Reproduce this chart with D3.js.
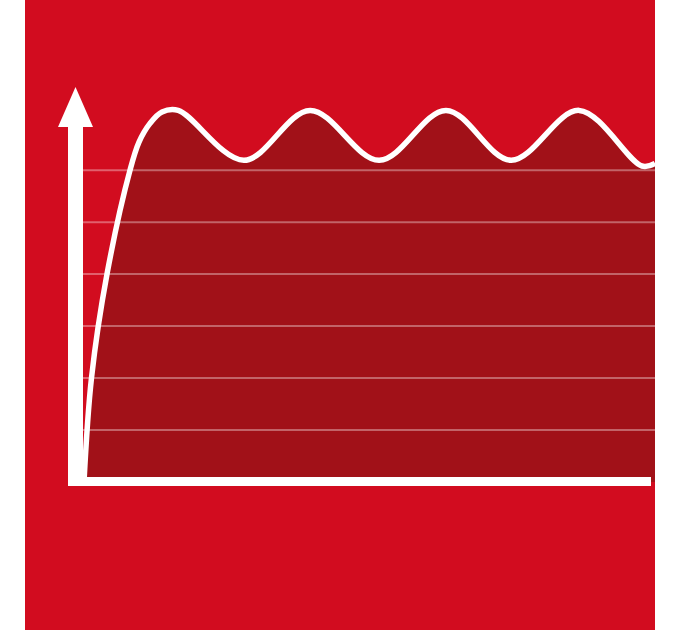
<!DOCTYPE html>
<html>
<head>
<meta charset="utf-8">
<script src="https://cdn.jsdelivr.net/npm/d3@7"></script>
<style>
  html, body { margin: 0; padding: 0; background: #ffffff; }
  svg { display: block; }
</style>
</head>
<body>
<svg id="chart" width="680" height="630"></svg>
<script>
// Time (0–100 across the plot) and response level
const times  = [0, 1.31, 4.03, 8.06, 9.63, 11.56, 13.66, 16.5, 28.0, 39.6, 51.7, 63.4, 74.8, 86.7, 97.7, 100];
const levels = [0, 2.0, 4.0, 6.0, 6.54, 6.90, 7.12, 7.15, 6.19, 7.15, 6.19, 7.15, 6.19, 7.15, 6.08, 6.13];
const gridLevels = [1, 2, 3, 4, 5, 6];

const data = times.map((t, i) => ({ t, v: levels[i] }));

const panel = { left: 25, right: 655, top: 0, bottom: 630 };

const x = d3.scaleLinear().domain([0, 100]).range([84, 655]);
const y = d3.scaleLinear().domain([0, 7.6]).range([482, 87]);

const svg = d3.select("#chart");
const curve = d3.curveCatmullRom.alpha(0.5);

// red panel
svg.append("rect")
  .attr("x", panel.left).attr("y", panel.top)
  .attr("width", panel.right - panel.left).attr("height", panel.bottom - panel.top)
  .attr("fill", "#d20c1f");

// filled area under the curve
const area = d3.area()
  .x(d => x(d.t)).y0(y(0)).y1(d => y(d.v))
  .curve(curve);
svg.append("path").datum(data)
  .attr("d", area)
  .attr("fill", "#a11118");

// gridlines
const shaftLeft = x(0) - 16, shaftRight = x(0) - 1;
svg.append("g").selectAll("line").data(gridLevels).join("line")
  .attr("x1", shaftRight).attr("x2", x(100))
  .attr("y1", d => y(d)).attr("y2", d => y(d))
  .attr("stroke", "#ffffff").attr("stroke-opacity", 0.35).attr("stroke-width", 2);

// curve
const line = d3.line().x(d => x(d.t)).y(d => y(d.v)).curve(curve);
svg.append("path").datum(data)
  .attr("d", line)
  .attr("fill", "none")
  .attr("stroke", "#ffffff")
  .attr("stroke-width", 5.5);

// axes: horizontal bar
const axisY = y(0);
svg.append("rect")
  .attr("x", shaftLeft).attr("y", axisY - 5)
  .attr("width", x(100) - 4 - shaftLeft).attr("height", 9)
  .attr("fill", "#ffffff");

// vertical shaft
const tipY = y(7.6), baseY = tipY + 40;
const cx = (shaftLeft + shaftRight) / 2;
svg.append("rect")
  .attr("x", shaftLeft).attr("y", baseY - 1)
  .attr("width", shaftRight - shaftLeft).attr("height", axisY + 4 - baseY + 1)
  .attr("fill", "#ffffff");

// arrowhead
svg.append("path")
  .attr("d", d3.line()([[cx, tipY], [cx + 17.5, baseY], [cx - 17.5, baseY]]) + "Z")
  .attr("fill", "#ffffff");
</script>
</body>
</html>
